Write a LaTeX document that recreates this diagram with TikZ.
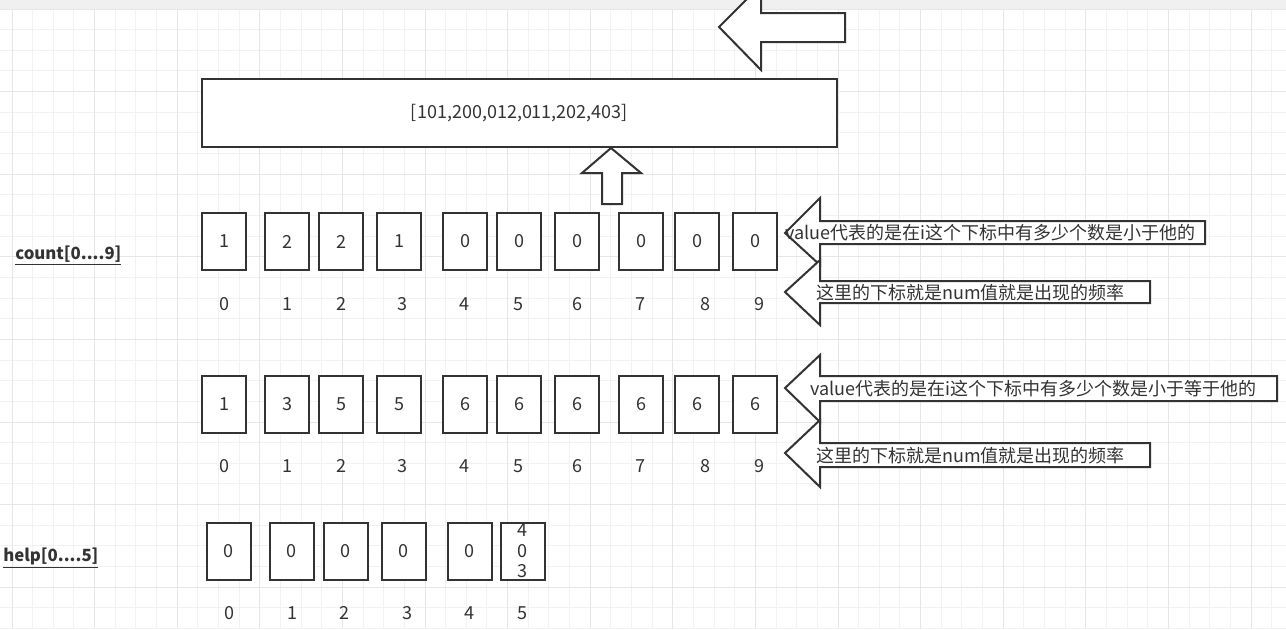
\documentclass[tikz,border=0pt]{standalone}
\usepackage{fontspec}
\setmainfont{Noto Sans CJK SC}
\definecolor{ink}{HTML}{333333}
\definecolor{gridminor}{HTML}{F2F2F2}
\definecolor{gridmajor}{HTML}{E6E6E6}
\definecolor{band}{HTML}{F0F0F0}

\begin{document}
\begin{tikzpicture}[x=0.75pt,y=-0.75pt,
    cell/.style={draw=ink,line width=1.5pt,fill=white,minimum width=33pt,
                 minimum height=42.75pt,inner sep=0pt,text=ink,
                 font=\fontsize{13.5}{15}\selectfont},
    idx/.style={inner sep=0pt,text=ink,font=\fontsize{13.5}{15}\selectfont},
    blockarrow/.style={draw=ink,line width=1.5pt,fill=white,line join=miter},
    note/.style={anchor=west,inner sep=0pt,text=ink,font=\fontsize{13.5}{15}\selectfont},
    arrname/.style={anchor=west,inner sep=0pt,text=ink,
                    font=\bfseries\fontsize{12.6}{14}\selectfont}]
    \useasboundingbox (0,0) rectangle (1286,629);
    \clip (0,0) rectangle (1286,629);
    % background grid
    \fill[band] (0,0) rectangle (1286,9);
    \foreach \k in {0,...,61}
        \draw[gridminor,line width=0.75pt] ({12+20.65*\k},9) -- ({12+20.65*\k},629);
    \foreach \k in {0,...,30}
        \draw[gridminor,line width=0.75pt] (0,{9+20.65*\k}) -- (1286,{9+20.65*\k});
    \foreach \k in {0,...,15}
        \draw[gridmajor,line width=0.75pt] ({12+82.6*\k},9) -- ({12+82.6*\k},629);
    \foreach \k in {0,...,7}
        \draw[gridmajor,line width=0.75pt] (0,{9+82.6*\k}) -- (1286,{9+82.6*\k});

    % result and block arrows
    \draw[blockarrow] (719,27) -- (761,-15) -- (761,13) -- (845,13) -- (845,42)
        -- (761,42) -- (761,70) -- cycle;
    \node[draw=ink,line width=1.5pt,fill=white,minimum width=476.25pt,
          minimum height=51pt,text=ink,font=\fontsize{13.5}{15}\selectfont]
        (keys) at (519.5,113) {[101,200,012,011,202,403]};
    \draw[blockarrow] (611,148) -- (641,173) -- (622,173) -- (622,204)
        -- (602,204) -- (602,173) -- (582,173) -- cycle;

    % count
    \node[arrname] (countname) at (15,255) {\underline{count[0....9]}};
    \foreach \x/\v [count=\i from 0] in {224/1,287/2,341/2,399/1,465/0,519/0,577/0,641/0,697/0,755/0}
        \node[cell] (count\i) at (\x,241.5) {\v};
    \foreach \x [count=\i from 0] in {224,287,341,402,464,518,577,640,705,759}
        \node[idx] (countidx\i) at (\x,304) {\i};
    \draw[blockarrow] (785,233) -- (820,198) -- (820,221) -- (1205,221) -- (1205,244)
        -- (820,244) -- (820,265) -- cycle;
    \node[note] (note1) at (785,233) {value代表的是在i这个下标中有多少个数是小于他的};
    \draw[blockarrow] (785,292) -- (820,260) -- (820,281) -- (1150,281) -- (1150,303)
        -- (820,303) -- (820,325) -- cycle;
    \node[note] (note2) at (816,293) {这里的下标就是num值就是出现的频率};

    % prefix sums
    \foreach \x/\v [count=\i from 0] in {224/1,287/3,341/5,399/5,465/6,519/6,577/6,641/6,697/6,755/6}
        \node[cell] (sum\i) at (\x,404) {\v};
    \foreach \x [count=\i from 0] in {224,287,341,402,464,518,577,640,705,759}
        \node[idx] (sumidx\i) at (\x,466) {\i};
    \draw[blockarrow] (785,388) -- (820,355) -- (820,376) -- (1277,376) -- (1277,401)
        -- (820,401) -- (820,422) -- cycle;
    \node[note] (note3) at (810,389) {value代表的是在i这个下标中有多少个数是小于等于他的};
    \draw[blockarrow] (785,453) -- (820,420) -- (820,443) -- (1150,443) -- (1150,467)
        -- (820,467) -- (820,487) -- cycle;
    \node[note] (note4) at (816,456) {这里的下标就是num值就是出现的频率};

    % help
    \node[arrname] (helpname) at (3,558) {\underline{help[0....5]}};
    \foreach \x [count=\i from 0] in {228.5,291.5,345.5,403.5,469.5}
        \node[cell] (help\i) at (\x,551) {0};
    \node[cell,align=center,font=\fontsize{13.5}{15.5}\selectfont] (help5) at (522.5,551) {4\\0\\3};
    \foreach \x [count=\i from 0] in {229,292,344,407,469,522}
        \node[idx] (helpidx\i) at (\x,613) {\i};
\end{tikzpicture}
\end{document}
